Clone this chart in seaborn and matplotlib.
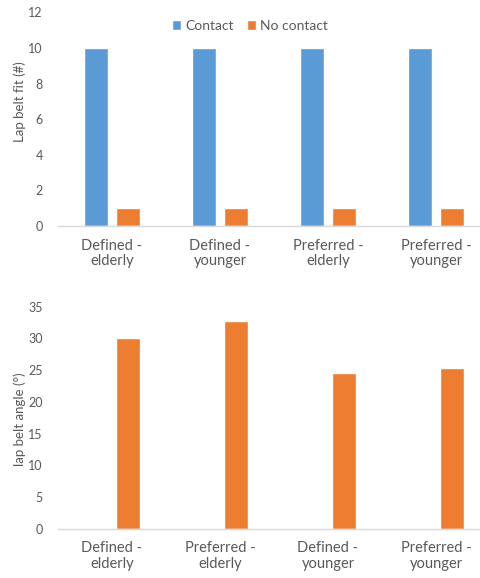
import matplotlib
matplotlib.use("Agg")
import matplotlib.pyplot as plt
import seaborn as sns
import pandas as pd

# Lap belt fit counts per condition
fit_conditions = ["Defined -\nelderly", "Defined -\nyounger", "Preferred -\nelderly", "Preferred -\nyounger"]
contact_counts = [10, 10, 10, 10]
no_contact_counts = [1, 1, 1, 1]
fit_series = ["Contact", "No contact"]

# Lap belt angle per condition
angle_conditions = ["Defined -\nelderly", "Preferred -\nelderly", "Defined -\nyounger", "Preferred -\nyounger"]
angle_values = [30.0, 32.8, 24.6, 25.3]
angle_series = ["Angle"]

BLUE = "#5B9BD5"
ORANGE = "#ED7D31"
TEXT = "#595959"
AXIS = "#D9D9D9"

sns.set_theme(style="white")
plt.rcParams["font.family"] = ["Lato", "DejaVu Sans"]

fit_df = pd.DataFrame({
    "condition": fit_conditions * 2,
    "series": [fit_series[0]] * 4 + [fit_series[1]] * 4,
    "value": contact_counts + no_contact_counts,
})
angle_df = pd.DataFrame({
    "condition": angle_conditions,
    "series": angle_series * 4,
    "value": angle_values,
})

W, H = 481, 578
fig = plt.figure(figsize=(W / 100, H / 100), dpi=100)

x0, x1 = 58, 490
ax1 = fig.add_axes([x0 / W, (H - 226) / H, (x1 - x0) / W, (226 - 12.4) / H])
ax2 = fig.add_axes([x0 / W, (H - 528.7) / H, (x1 - x0) / W, (528.7 - 306.7) / H])

sns.barplot(data=fit_df, x="condition", y="value", hue="series",
            hue_order=fit_series, order=fit_conditions,
            palette=[BLUE, ORANGE], width=0.58, gap=0.23, dodge=True,
            errorbar=None, ax=ax1, saturation=1)

# the angle series sits in the second slot of each group; first slot is empty
sns.barplot(data=angle_df, x="condition", y="value", hue="series",
            hue_order=["", "Angle"], order=angle_conditions,
            palette={"": BLUE, "Angle": ORANGE}, width=0.58, gap=0.23, dodge=True,
            errorbar=None, ax=ax2, saturation=1, legend=False)

for ax, top, step in [(ax1, 12, 2), (ax2, 35, 5)]:
    ax.set_xlim(-0.5, 3.5)
    ax.set_ylim(0, top)
    ax.set_yticks(range(0, top + 1, step))
    for s in ["top", "right", "left"]:
        ax.spines[s].set_visible(False)
    ax.spines["bottom"].set_color(AXIS)
    ax.spines["bottom"].set_linewidth(1.0)
    ax.tick_params(axis="both", length=0, colors=TEXT)
    ax.tick_params(axis="y", labelsize=9, pad=11)
    ax.tick_params(axis="x", labelsize=10.5, pad=9)
    ax.set_xlabel("")
    for lbl in ax.get_xticklabels():
        lbl.set_linespacing(1.15)
    ax.grid(False)

ax1.set_ylabel("Lap belt fit (#)", color=TEXT, fontsize=9.5)
ax1.yaxis.set_label_coords(-0.075, 0.58)
ax2.set_ylabel("lap belt angle (°)", color=TEXT, fontsize=9.5)
ax2.yaxis.set_label_coords(-0.075, 0.494)

leg = ax1.get_legend()
if leg is not None:
    leg.remove()
handles, labels = ax1.get_legend_handles_labels()
fig.legend(handles, labels, loc="center", bbox_to_anchor=(250 / W, 1 - 26 / H),
           ncol=2, frameon=False, fontsize=10, handlelength=0.7, handleheight=0.7,
           handletextpad=0.3, columnspacing=0.9, labelcolor=TEXT)

fig.savefig("out.png", dpi=100)
